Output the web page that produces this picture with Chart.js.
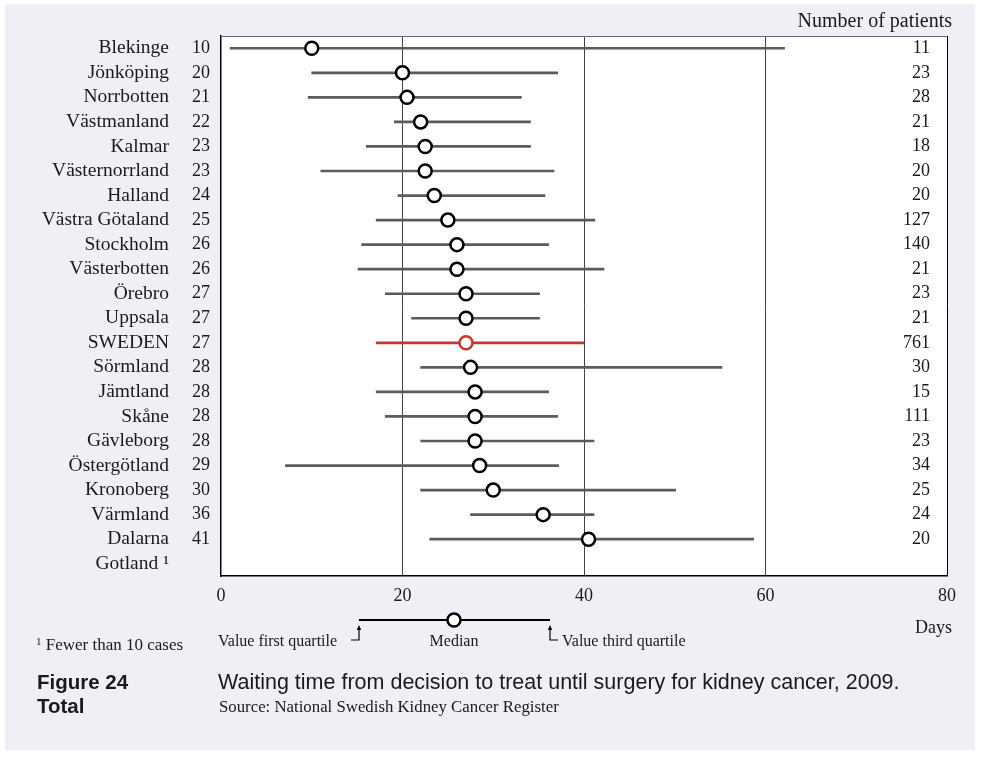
<!DOCTYPE html>
<html><head><meta charset="utf-8">
<script src="https://cdn.jsdelivr.net/npm/chart.js@4.4.1/dist/chart.umd.min.js"></script>
<style>
html,body{margin:0;padding:0;background:#fff;width:981px;height:757px;overflow:hidden;}
#panel{position:absolute;left:5px;top:4px;width:970px;height:746px;background:#eef0f5;}
#c{position:absolute;left:0;top:0;}
.t{position:absolute;white-space:nowrap;color:#1a1a1a;}
.serif{font-family:'Liberation Serif',serif;}
.sans{font-family:'Liberation Sans',Arial,sans-serif;}
</style></head><body>
<div id="panel"></div>
<canvas id="c" width="981" height="757"></canvas>
<div class="t serif" style="right:29px;top:10px;font-size:20px;line-height:20px;">Number of patients</div>
<div class="t serif" style="right:29px;top:618px;font-size:18px;line-height:18px;">Days</div>
<div class="t serif" style="left:36px;top:633px;font-size:17px;line-height:17px;"><span style="font-size:11px;vertical-align:5px">1</span> Fewer than 10 cases</div>
<div class="t serif" style="left:218px;top:633px;font-size:16px;line-height:16px;">Value first quartile</div>
<div class="t serif" style="left:454px;top:633px;font-size:16px;line-height:16px;transform:translateX(-50%)">Median</div>
<div class="t serif" style="left:562px;top:633px;font-size:16px;line-height:16px;">Value third quartile</div>
<div class="t sans" style="left:37px;top:672px;font-size:20.5px;line-height:20.5px;font-weight:bold;">Figure 24</div>
<div class="t sans" style="left:37px;top:696px;font-size:20.5px;line-height:20.5px;font-weight:bold;">Total</div>
<div class="t sans" style="left:218px;top:672px;font-size:21.5px;line-height:21.5px;">Waiting time from decision to treat until surgery for kidney cancer, 2009.</div>
<div class="t serif" style="left:219px;top:699px;font-size:16.8px;line-height:16.8px;">Source: National Swedish Kidney Cancer Register</div>
<script>
const regions = ['Blekinge','Jönköping','Norrbotten','Västmanland','Kalmar','Västernorrland','Halland','Västra Götaland','Stockholm','Västerbotten','Örebro','Uppsala','SWEDEN','Sörmland','Jämtland','Skåne','Gävleborg','Östergötland','Kronoberg','Värmland','Dalarna','Gotland \u00B9'];
const medians = [10,20,20.5,22,22.5,22.5,23.5,25,26,26,27,27,27,27.5,28,28,28,28.5,30,35.5,40.5,null];
const q1 = [1,10,9.6,19.1,16,11,19.5,17.1,15.5,15.1,18.1,21,17.1,22,17.1,18.1,22,7.1,22,27.5,23,null];
const q3 = [62.1,37.1,33.1,34.1,34.1,36.7,35.7,41.2,36.1,42.2,35.1,35.1,40,55.2,36.1,37.1,41.1,37.2,50.1,41.1,58.7,null];
const patients = [11,23,28,21,18,20,20,127,140,21,23,21,761,30,15,111,23,34,25,24,20,null];
const xTicks = [0,20,40,60,80];

const RED = '#c0392b';
const GREY = '#5b5b5b';
const SERIF = "'Liberation Serif', serif";
const lineColors = regions.map(r => r === 'SWEDEN' ? RED : GREY);
const ptColors = regions.map(r => r === 'SWEDEN' ? RED : '#000');

const framePlugin = {
  id: 'frame',
  beforeDraw(chart) {
    const {ctx, chartArea: a} = chart;
    ctx.save();
    ctx.fillStyle = '#fff';
    ctx.fillRect(a.left, a.top, a.right - a.left, a.bottom - a.top);
    ctx.restore();
  },
  beforeDatasetsDraw(chart) {
    const {ctx, chartArea: a} = chart;
    ctx.save();
    ctx.strokeStyle = '#666';
    ctx.lineWidth = 1;
    ctx.beginPath();
    ctx.moveTo(a.left, a.top + 0.5);
    ctx.lineTo(a.right, a.top + 0.5);
    ctx.stroke();
    ctx.restore();
  },
  afterDraw(chart) {
    const {ctx} = chart;
    const ys = chart.scales.y2;
    ctx.save();
    ctx.fillStyle = '#1a1a1a';
    ctx.font = "18px " + SERIF;
    ctx.textAlign = 'right';
    ctx.textBaseline = 'middle';
    patients.forEach((p, i) => {
      if (p == null) return;
      ctx.fillText(String(p), 930, ys.getPixelForValue(i));
    });
    // legend key
    const ly = 620, lx1 = 359, lx2 = 550, lm = 454;
    ctx.strokeStyle = '#000';
    ctx.lineWidth = 2;
    ctx.beginPath(); ctx.moveTo(lx1, ly); ctx.lineTo(lx2, ly); ctx.stroke();
    ctx.lineWidth = 1.2;
    ctx.beginPath(); ctx.moveTo(lx1, 627); ctx.lineTo(lx1, 640); ctx.lineTo(351, 640); ctx.stroke();
    ctx.beginPath(); ctx.moveTo(lx2, 627); ctx.lineTo(lx2, 640); ctx.lineTo(558, 640); ctx.stroke();
    ctx.fillStyle = '#000';
    [lx1, lx2].forEach(x => {
      ctx.beginPath(); ctx.moveTo(x, 625); ctx.lineTo(x - 2.2, 630); ctx.lineTo(x + 2.2, 630); ctx.closePath(); ctx.fill();
    });
    ctx.beginPath(); ctx.arc(lm, ly, 6.5, 0, Math.PI * 2);
    ctx.fillStyle = '#fff'; ctx.fill();
    ctx.lineWidth = 2.5; ctx.strokeStyle = '#000'; ctx.stroke();
    ctx.restore();
  }
};

new Chart(document.getElementById('c'), {
  type: 'bar',
  data: {
    labels: regions,
    datasets: [
      {
        type: 'line', label: 'Median', data: medians, indexAxis: 'y',
        xAxisID: 'x', yAxisID: 'y2', showLine: false,
        pointRadius: 6.5, pointHoverRadius: 6.5, pointBorderWidth: 2.5,
        pointBackgroundColor: '#fff', pointBorderColor: ptColors, order: 0
      },
      {
        type: 'bar', label: 'Quartiles', indexAxis: 'y',
        data: regions.map((r, i) => q1[i] == null ? null : [q1[i], q3[i]]),
        xAxisID: 'x', yAxisID: 'y2', backgroundColor: lineColors,
        barThickness: 2, borderWidth: 0, order: 1
      }
    ]
  },
  options: {
    indexAxis: 'y', responsive: false, animation: false,
    layout: {padding: {top: 36, right: 34, bottom: 151, left: 0}},
    plugins: {legend: {display: false}, tooltip: {enabled: false}},
    scales: {
      x: {
        type: 'linear', min: 0, max: 80, position: 'bottom',
        afterBuildTicks: s => { s.ticks = xTicks.map(v => ({value: v})); },
        ticks: {padding: 9, color: '#1a1a1a', font: {family: SERIF, size: 18}},
        grid: {drawTicks: false, lineWidth: 1,
          color: c => c.tick.value === 0 ? 'rgba(0,0,0,0)' : (c.tick.value === 80 ? '#000' : '#444')},
        border: {display: true, color: '#000', width: 1.5},
        afterFit: s => { s.height = 30; }
      },
      y2: {
        type: 'category', labels: regions, position: 'left', weight: 0, offset: true,
        grid: {display: false, drawTicks: false},
        border: {display: true, color: '#000', width: 1.5},
        ticks: {padding: 11, color: '#1a1a1a', autoSkip: false, font: {family: SERIF, size: 18},
          callback: (v, i) => medians[i] == null ? '' : String(Math.round(medians[i]))},
        afterFit: s => { s.width = 40; }
      },
      y: {
        type: 'category', labels: regions, position: 'left', weight: 1, offset: true,
        grid: {display: false, drawTicks: false},
        border: {display: false},
        ticks: {padding: 12, color: '#1a1a1a', autoSkip: false, font: {family: SERIF, size: 19.5},
          callback: (v, i) => regions[i]},
        afterFit: s => { s.width = 181; }
      }
    }
  },
  plugins: [framePlugin]
});
</script>
</body></html>
